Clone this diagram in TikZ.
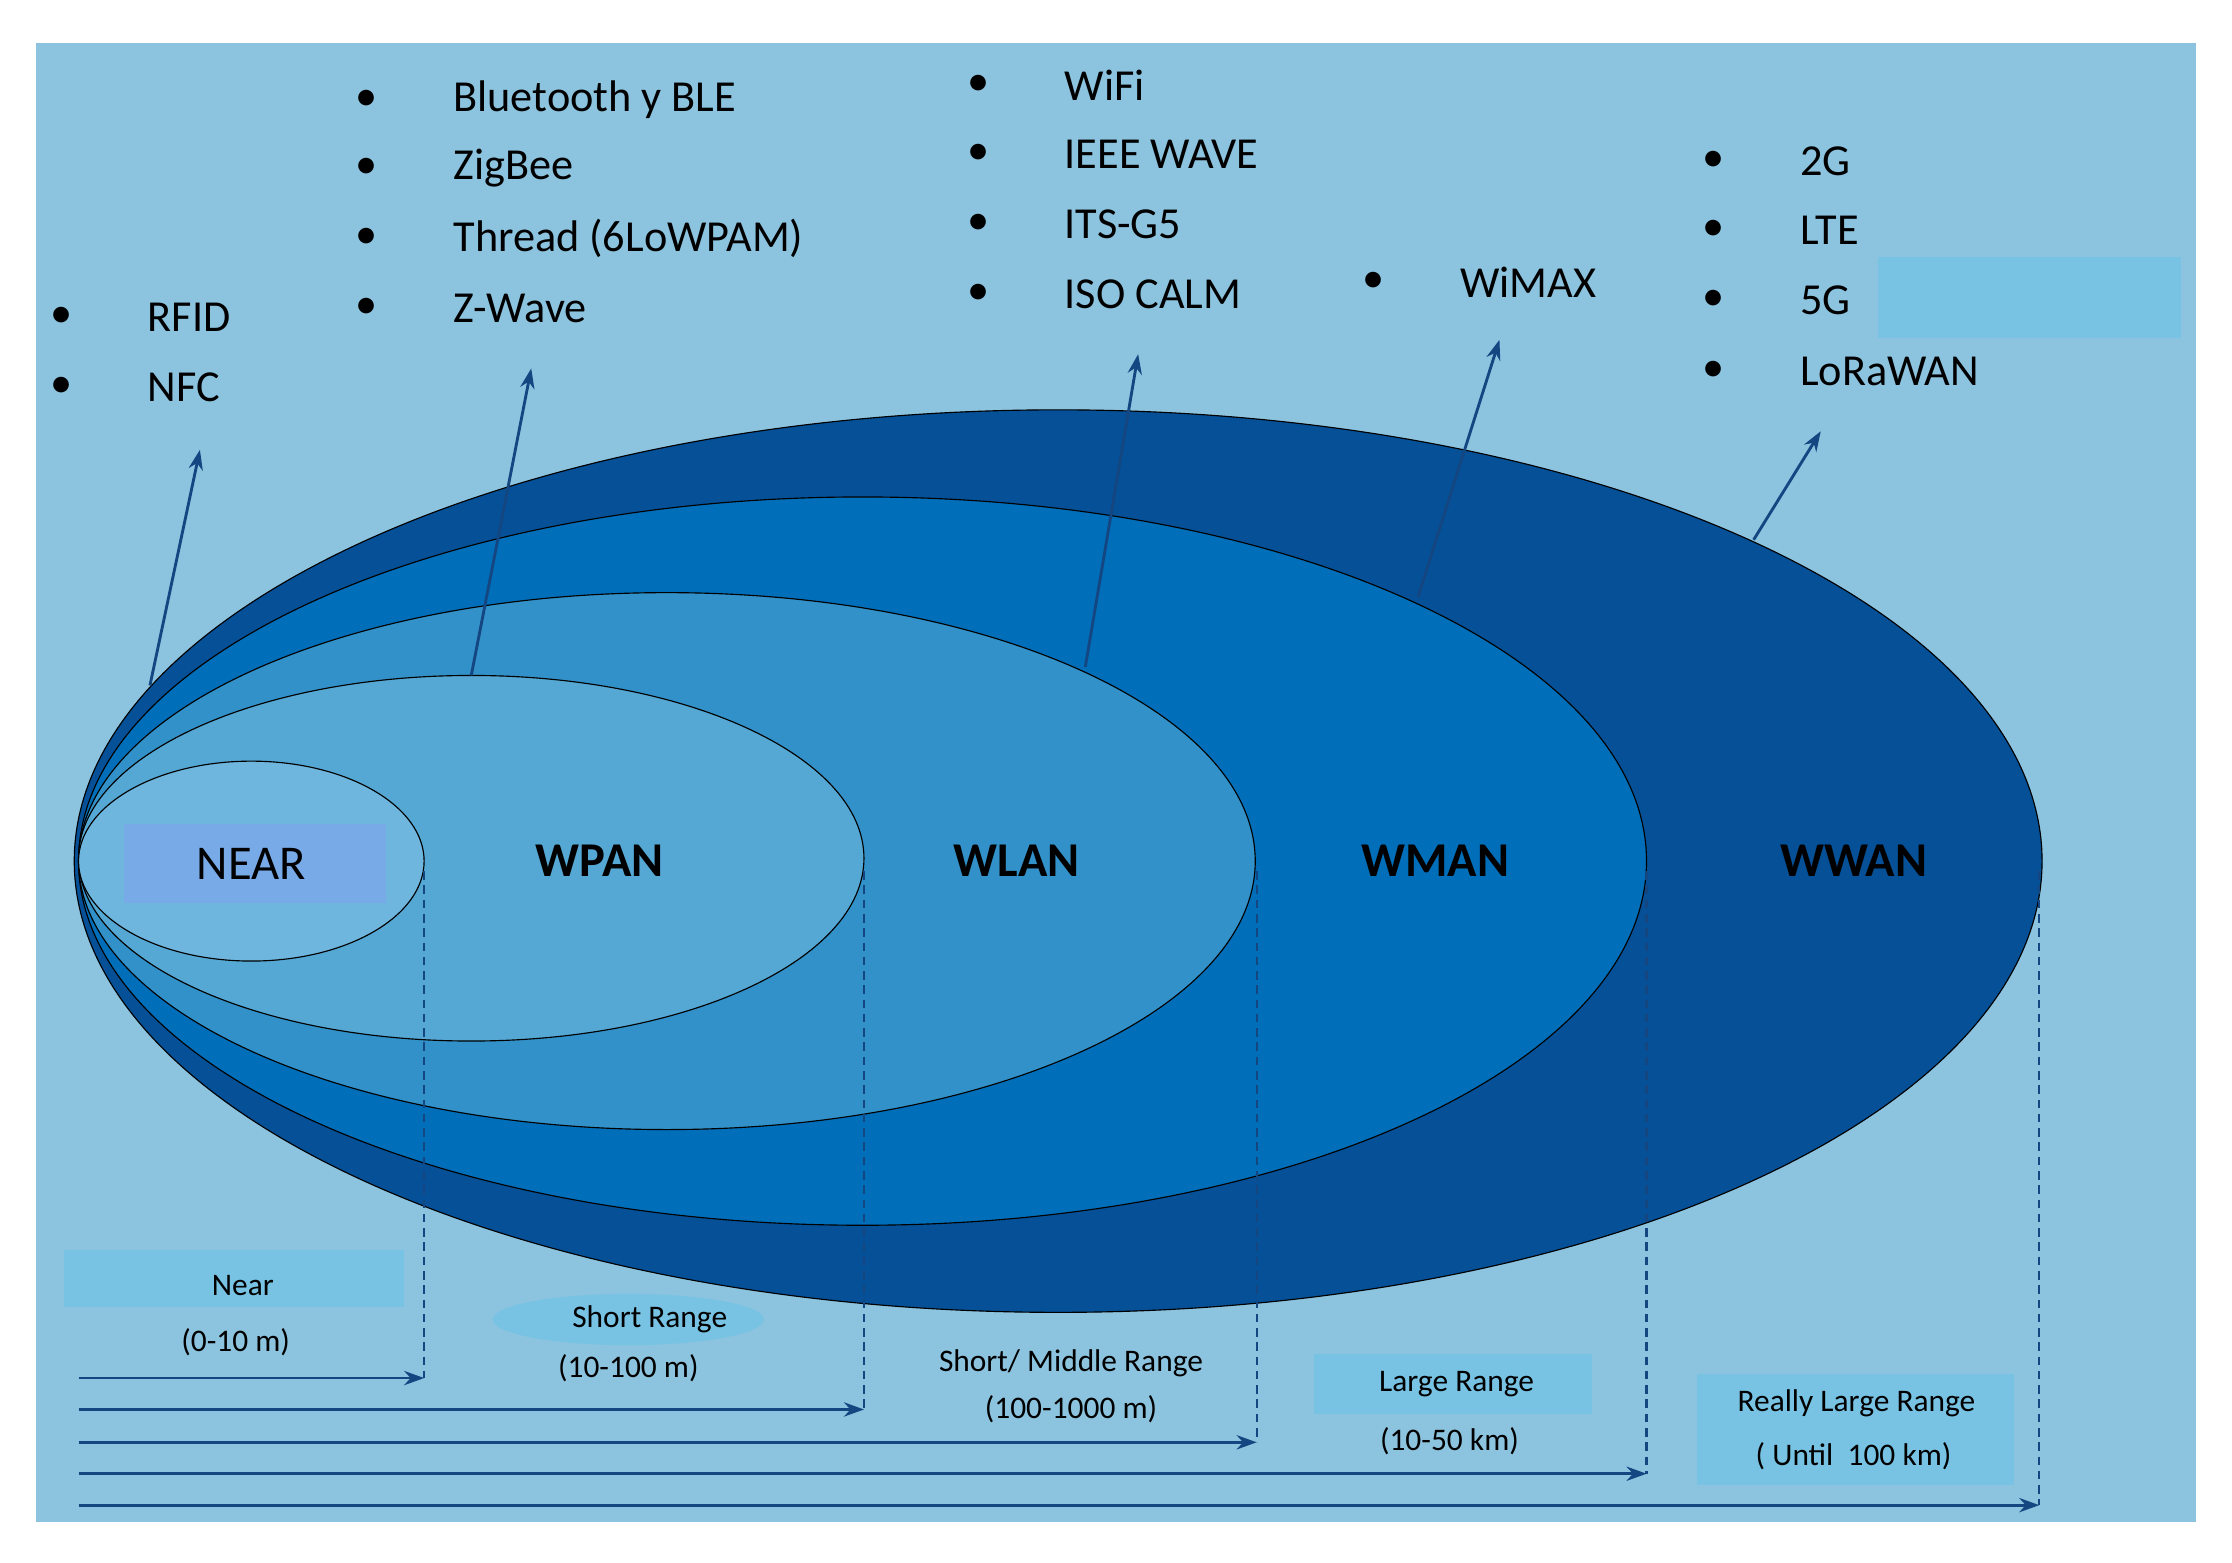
\documentclass[tikz,border=0pt]{standalone}
\usepackage{fontspec}
\setmainfont{Carlito}
\usetikzlibrary{arrows.meta}
\definecolor{bg}{RGB}{140,195,222}
\definecolor{cwwan}{RGB}{5,80,150}
\definecolor{cwman}{RGB}{0,110,185}
\definecolor{cwlan}{RGB}{50,145,200}
\definecolor{cwpan}{RGB}{85,168,212}
\definecolor{cnear}{RGB}{110,182,222}
\definecolor{hl}{RGB}{120,195,228}
\definecolor{arr}{RGB}{20,70,130}
\tikzset{
 zone/.style={draw=black,line width=0.8pt},
 big/.style={font=\fontsize{34}{40}\selectfont\bfseries},
 item/.style={anchor=west,font=\fontsize{31}{36}\selectfont},
 bul/.style={font=\fontsize{31}{36}\selectfont},
 rng/.style={font=\fontsize{22}{26}\selectfont},
 up/.style={draw=arr,line width=2pt,-{Stealth[length=14pt,width=10pt]}},
 dl/.style={draw=arr,line width=1.6pt,dashed,dash pattern=on 6pt off 4pt},
 ra/.style={draw=arr,line width=2pt,-{Stealth[length=14pt,width=10pt]}}
}
\begin{document}
\begin{tikzpicture}[x=1pt,y=-1pt]
\useasboundingbox (0,0) rectangle (1563,1094);
\fill[bg] (25,30) rectangle (1538,1066);
\fill[hl] (1315,180) rectangle (1527,237);
\fill[hl] (45,875) rectangle (283,915);
\fill[hl] (920,948) rectangle (1115,990);
\fill[hl] (1188,962) rectangle (1410,1040);
\fill[hl] (440,924) ellipse (95 and 18);
% ellipses
\draw[zone,fill=cwwan] (741,603) ellipse (689 and 316);
\draw[zone,fill=cwman] (604,603) ellipse (549 and 255);
\draw[zone,fill=cwlan] (467,603) ellipse (412 and 188);
\draw[zone,fill=cwpan] (330,601) ellipse (275 and 128);
\draw[zone,fill=cnear] (176,603) ellipse (121 and 70);
\fill[RGB/.style={},fill={rgb,255:red,120;green,170;blue,232}] (87,577) rectangle (270,632);
\node[font=\fontsize{34}{40}\selectfont] (near) at (176,605) {NEAR};
\node[big] (wpan) at (420,603) {WPAN};
\node[big] (wlan) at (712,603) {WLAN};
\node[big] (wman) at (1005,603) {WMAN};
\node[big] (wwan) at (1298,603) {WWAN};
% bullet lists
\foreach \y/\t in {222/RFID,271/NFC}{\node[bul] at (43,\y) {•};\node[item] at (100,\y) {\t};}
\foreach \y/\t in {70/Bluetooth y BLE,118/ZigBee,167/Thread (6LoWPAM),216/Z-Wave}{\node[bul] at (257,\y) {•};\node[item] at (314,\y) {\t};}
\foreach \y/\t in {60/WiFi,108/IEEE WAVE,157/ITS-G5,206/ISO CALM}{\node[bul] at (685,\y) {•};\node[item] at (742,\y) {\t};}
\node[bul] at (962,198) {•};\node[item] at (1019,198) {WiMAX};
\foreach \y/\t in {113/2G/3G/4G,161/LTE,210/5G,260/LoRaWAN}{\node[bul] at (1200,\y) {•};\node[item] at (1257,\y) {\t};}
% up arrows
\coordinate (a1s) at (105,480); \coordinate (a1e) at (140,315);
\coordinate (a2s) at (330,473); \coordinate (a2e) at (372,258);
\coordinate (a3s) at (760,467); \coordinate (a3e) at (797,248);
\coordinate (a4s) at (993,418); \coordinate (a4e) at (1050,238);
\coordinate (a5s) at (1228,378); \coordinate (a5e) at (1275,302);
\foreach \i in {1,...,5} \draw[up] (a\i s) -- (a\i e);
% dashed lines and range arrows
\foreach \x/\ya/\yb in {297/1/965,605/2/987,880/3/1010,1153/4/1032,1428/5/1054}{
  \coordinate (t\ya) at (\x,610); \coordinate (e\ya) at (\x,\yb); \coordinate (s\ya) at (55,\yb);
  \draw[dl] (t\ya) -- (e\ya);
  \draw[ra] (s\ya) -- (e\ya);
}
\node[rng] at (170,900) {Near};
\node[rng] at (165,940) {(0-10 m)};
\node[rng] at (455,924) {Short Range};
\node[rng] at (440,958) {(10-100 m)};
\node[rng] at (750,955) {Short/ Middle Range};
\node[rng] at (750,987) {(100-1000 m)};
\node[rng] at (1020,969) {Large Range};
\node[rng] at (1015,1009) {(10-50 km)};
\node[rng] at (1300,983) {Really Large Range};
\node[rng] at (1298,1020) {( Until~ 100 km)};
\end{tikzpicture}
\end{document}
